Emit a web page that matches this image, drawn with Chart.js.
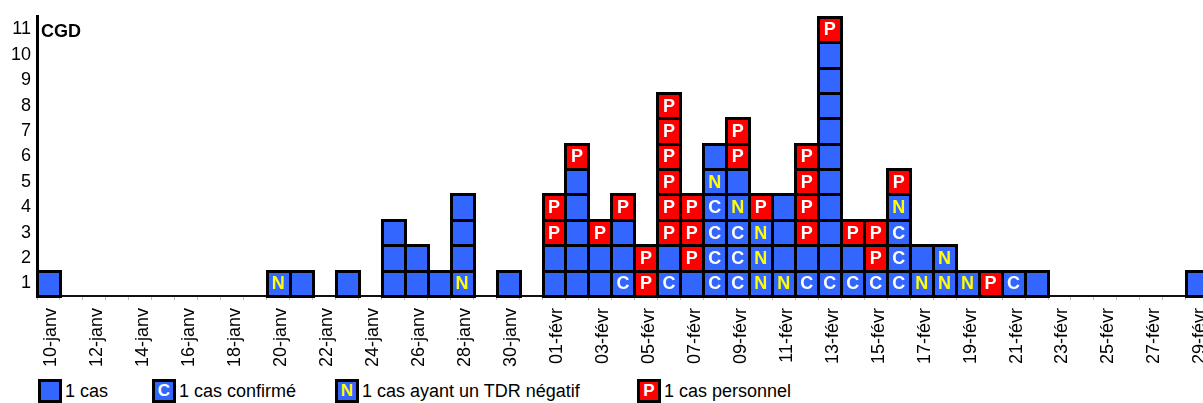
<!DOCTYPE html>
<html lang="fr">
<head>
<meta charset="utf-8">
<title>CGD - courbe épidémique</title>
<script src="https://cdn.jsdelivr.net/npm/chart.js@4.4.1/dist/chart.umd.min.js"></script>
<style>
  html, body { margin: 0; padding: 0; background: #fff; overflow: hidden; }
  #page { position: relative; width: 1203px; height: 403px; overflow: hidden; font-family: "Liberation Sans", Arial, sans-serif; }
  #epi { position: absolute; left: 0; top: 0; }
  .leg { position: absolute; top: 379px; height: 24px; display: flex; align-items: flex-start; font-size: 18px; color: #000; white-space: nowrap; }
  .leg .box { box-sizing: border-box; width: 24px; height: 24px; border: 3px solid #000; background: #3366ff; color: #fff; font-weight: bold; text-align: center; line-height: 18px; font-size: 17px; }
  .leg .box.n { color: #ffff00; }
  .leg .box.p { background: #ff0000; }
  .leg .txt { margin-left: 3px; line-height: 24px; }
</style>
</head>
<body>
<div id="page">
  <canvas id="epi" width="1227" height="376" style="width:1227px;height:376px"></canvas>
  <div class="leg" style="left:38px"><div class="box"></div><span class="txt">1 cas</span></div>
  <div class="leg" style="left:152px"><div class="box">C</div><span class="txt">1 cas confirmé</span></div>
  <div class="leg" style="left:335px"><div class="box n">N</div><span class="txt">1 cas ayant un TDR négatif</span></div>
  <div class="leg" style="left:637px"><div class="box p">P</div><span class="txt">1 cas personnel</span></div>
</div>
<script>
// jours (catégories)
const days = [
  '10-janv','11-janv','12-janv','13-janv','14-janv','15-janv','16-janv','17-janv','18-janv','19-janv','20-janv',
  '21-janv','22-janv','23-janv','24-janv','25-janv','26-janv','27-janv','28-janv','29-janv','30-janv','31-janv',
  '01-févr','02-févr','03-févr','04-févr','05-févr','06-févr','07-févr','08-févr','09-févr','10-févr',
  '11-févr','12-févr','13-févr','14-févr','15-févr','16-févr','17-févr','18-févr','19-févr','20-févr',
  '21-févr','22-févr','23-févr','24-févr','25-févr','26-févr','27-févr','28-févr','29-févr'
];
const yTicks = [1, 2, 3, 4, 5, 6, 7, 8, 9, 10, 11];

// nombre de cas par jour, un tableau par catégorie (ordre d'empilement : C, N, cas, P)
const confirmes = [
  0,0,0,0,0,0,0,0,0,0,0, 0,0,0,0,0,0,0,0,0,0,0,
  0,0,0,1,0,1,0,4,3,0, 0,1,1,1,1,3,0,0,0,0, 1,0,0,0,0,0,0,0,0
];
const tdrNegatifs = [
  0,0,0,0,0,0,0,0,0,0,1, 0,0,0,0,0,0,0,1,0,0,0,
  0,0,0,0,0,0,0,1,1,3, 1,0,0,0,0,1,1,2,1,0, 0,0,0,0,0,0,0,0,0
];
const casSimples = [
  1,0,0,0,0,0,0,0,0,0,0, 1,0,1,0,3,2,1,3,0,1,0,
  2,5,2,2,0,1,1,1,1,0, 3,1,9,1,0,0,1,0,0,0, 0,1,0,0,0,0,0,0,1
];
const personnel = [
  0,0,0,0,0,0,0,0,0,0,0, 0,0,0,0,0,0,0,0,0,0,0,
  2,1,1,1,2,6,3,0,2,1, 0,4,1,1,2,1,0,0,0,1, 0,0,0,0,0,0,0,0,0
];

// styles des cases
const kinds = [
  { counts: confirmes,   fill: '#3366ff', letter: 'C', letterColor: '#ffffff' },
  { counts: tdrNegatifs, fill: '#3366ff', letter: 'N', letterColor: '#ffff00' },
  { counts: casSimples,  fill: '#3366ff', letter: '',  letterColor: '#ffffff' },
  { counts: personnel,   fill: '#ff0000', letter: 'P', letterColor: '#ffffff' },
];

// pile de cases pour chaque jour
const stacks = days.map((d, i) => {
  const s = [];
  kinds.forEach(k => { for (let n = 0; n < k.counts[i]; n++) s.push(k); });
  return s;
});
const maxLevel = Math.max(...stacks.map(s => s.length));

// un dataset par niveau (1 case = 1 cas)
const datasets = [];
for (let lv = 0; lv < maxLevel; lv++) {
  datasets.push({
    label: 'niveau ' + (lv + 1),
    data: stacks.map(s => s[lv] ? 1 : null),
    backgroundColor: stacks.map(s => s[lv] ? s[lv].fill : 'transparent'),
    kinds: stacks.map(s => s[lv] || null),
    borderWidth: 0,
    categoryPercentage: 1,
    barPercentage: 1,
    stack: 'cas',
  });
}

const FONT = '"Liberation Sans", Arial, sans-serif';
Chart.defaults.font.family = FONT;
Chart.defaults.color = '#000';

// contours noirs + lettres dans les cases, titre
const boxPlugin = {
  id: 'boxes',
  afterDatasetsDraw(chart) {
    const ctx = chart.ctx;
    ctx.save();
    chart.data.datasets.forEach((ds, di) => {
      const meta = chart.getDatasetMeta(di);
      meta.data.forEach((bar, i) => {
        const kind = ds.kinds[i];
        if (!kind) return;
        const left = Math.round(bar.x - bar.width / 2) + 0.5;
        const right = Math.round(bar.x + bar.width / 2) + 0.5;
        const top = Math.round(bar.y) + 0.5;
        const bottom = Math.round(bar.base) + 0.5;
        ctx.lineWidth = 3;
        ctx.strokeStyle = '#000';
        ctx.strokeRect(left, top, right - left, bottom - top);
        if (kind.letter) {
          ctx.fillStyle = kind.letterColor;
          ctx.font = 'bold 18px ' + FONT;
          ctx.textAlign = 'center';
          ctx.textBaseline = 'middle';
          ctx.fillText(kind.letter, bar.x, (bar.y + bar.base) / 2 + 1);
        }
      });
    });
    ctx.fillStyle = '#000';
    ctx.font = 'bold 18px ' + FONT;
    ctx.textAlign = 'left';
    ctx.textBaseline = 'middle';
    ctx.fillText('CGD', chart.chartArea.left + 4, chart.chartArea.top + 15);
    ctx.restore();
  }
};

new Chart(document.getElementById('epi'), {
  type: 'bar',
  data: { labels: days, datasets },
  options: {
    responsive: false,
    animation: false,
    layout: { padding: { top: 13, right: 4, left: 0, bottom: 0 } },
    plugins: { legend: { display: false }, tooltip: { enabled: false } },
    scales: {
      x: {
        stacked: true,
        grid: { display: true, drawOnChartArea: false, drawTicks: true, tickLength: 4, color: '#bdbdbd', offset: true },
        border: { display: true, color: '#111', width: 2 },
        ticks: {
          autoSkip: false, maxRotation: 90, minRotation: 90, padding: 8, labelOffset: 3,
          font: { size: 18 },
          callback: function (v, i) { return i % 2 === 0 ? this.getLabelForValue(v) : ''; }
        },
        afterFit: s => { s.height = 80; }
      },
      y: {
        stacked: true,
        min: 0,
        max: 11,
        grid: { display: false, drawTicks: false },
        border: { display: true, color: '#000', width: 3 },
        ticks: { padding: 6, font: { size: 18 }, callback: v => String(Math.round(v + 0.5)) },
        afterBuildTicks: s => { s.ticks = yTicks.map(v => ({ value: v - 0.5 })); },
        afterFit: s => { s.width = 37; }
      }
    }
  },
  plugins: [boxPlugin]
});
</script>
</body>
</html>
